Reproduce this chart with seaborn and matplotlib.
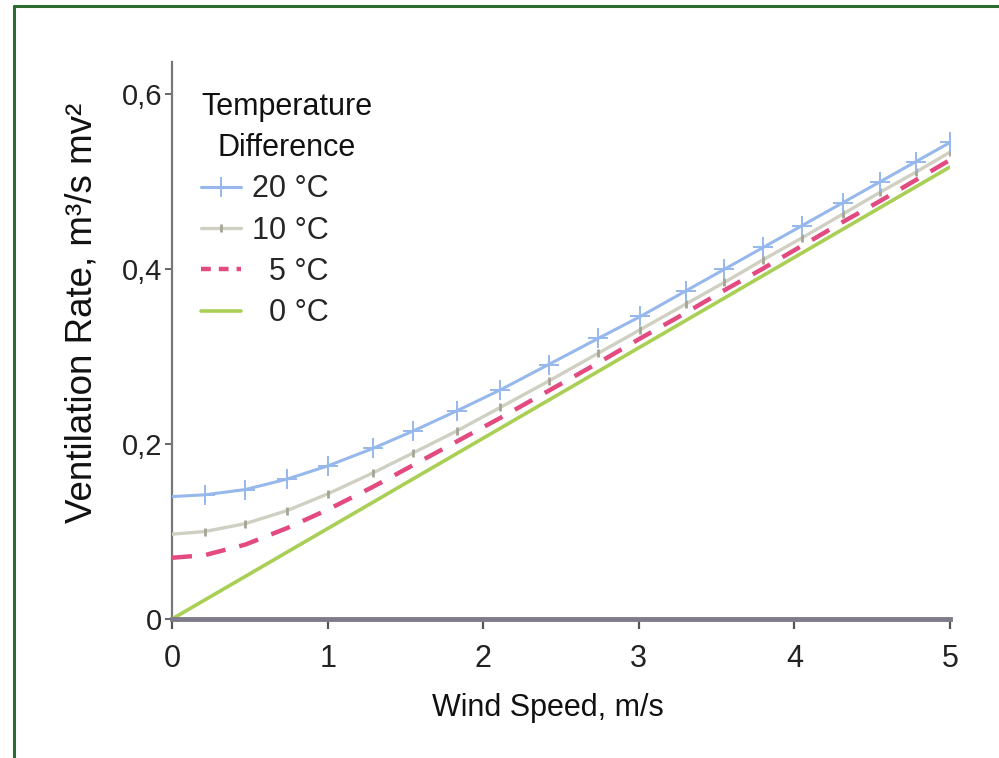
import matplotlib
matplotlib.use("Agg")
import matplotlib.pyplot as plt
import seaborn as sns
import pandas as pd
from matplotlib.lines import Line2D

# ---- data ----
wind = [0, 0.21, 0.47, 0.74, 1.0, 1.29, 1.55, 1.83, 2.11, 2.42, 2.74,
        3.01, 3.30, 3.55, 3.80, 4.05, 4.31, 4.55, 4.78, 5.0]
rate_20 = [0.140, 0.142, 0.148, 0.160, 0.175, 0.195, 0.215, 0.238, 0.262, 0.291,
           0.321, 0.346, 0.375, 0.400, 0.425, 0.450, 0.476, 0.500, 0.523, 0.545]
rate_10 = [0.097, 0.100, 0.109, 0.124, 0.143, 0.167, 0.190, 0.215, 0.242, 0.272,
           0.304, 0.331, 0.360, 0.385, 0.411, 0.436, 0.463, 0.488, 0.511, 0.534]
rate_5 = [0.070, 0.073, 0.085, 0.104, 0.125, 0.151, 0.176, 0.203, 0.230, 0.261,
          0.293, 0.321, 0.350, 0.376, 0.401, 0.427, 0.454, 0.478, 0.502, 0.525]
wind_0 = [0, 5.0]
rate_0 = [0.0, 0.517]

labels = ["20\u00a0°C", "10\u00a0°C", "\u20075\u00a0°C", "\u20070\u00a0°C"]
legend_title = "Temperature\nDifference"
xlabel = "Wind Speed, m/s"
ylabel = "Ventilation Rate, m³/s mv²"
xticks = [0, 1, 2, 3, 4, 5]
yticks = [0, 0.2, 0.4, 0.6]
yticklabels = ["0", "0,2", "0,4", "0,6"]

sns.set_style("white")
plt.rcParams['font.family'] = ['Liberation Sans', 'DejaVu Sans']

fig = plt.figure(figsize=(9.99, 7.58), dpi=100)
ax = fig.add_axes([0.1722, 0.1834, 0.7788, 0.7348])

d20 = pd.DataFrame({"x": wind, "y": rate_20})
d10 = pd.DataFrame({"x": wind, "y": rate_10})
d5 = pd.DataFrame({"x": wind, "y": rate_5})
d0 = pd.DataFrame({"x": wind_0, "y": rate_0})

c20, c10, c5, c0 = "#96b8ec", "#cfcfc2", "#e24a80", "#a9cf55"

sns.lineplot(data=d0, x="x", y="y", ax=ax, color=c0, lw=2.6,
             label=labels[3], zorder=3)
sns.lineplot(data=d5, x="x", y="y", ax=ax, color=c5, lw=3.2,
             label=labels[2], zorder=4, dashes=False)
l5 = [l for l in ax.lines if l.get_label() == labels[2]][0]
l5.set_dashes((4.5, 3.2))
sns.lineplot(data=d10, x="x", y="y", ax=ax, color=c10, lw=2.4,
             marker="|", markersize=6, markeredgewidth=2,
             markeredgecolor="#a5a596", markevery=slice(1, None),
             label=labels[1], zorder=5)
sns.lineplot(data=d20, x="x", y="y", ax=ax, color=c20, lw=2.2,
             marker="+", markersize=15, markeredgewidth=1.4,
             markeredgecolor=c20, markevery=slice(1, None),
             label=labels[0], zorder=6)

ax.set_xlim(0, 5)
ax.set_ylim(0, 0.637)
ax.set_xticks(xticks)
ax.set_xticklabels([str(t) for t in xticks])
ax.set_yticks(yticks)
ax.set_yticklabels(yticklabels)

for s in ["top", "right"]:
    ax.spines[s].set_visible(False)
ax.spines["left"].set_color("#777777")
ax.spines["left"].set_linewidth(1.6)
ax.spines["bottom"].set_color("#7f7b88")
ax.spines["bottom"].set_linewidth(3.5)
ax.spines["bottom"].set_zorder(7)

ax.tick_params(axis="x", direction="out", length=7, width=1.6, color="#555555",
               pad=11, labelsize=22, labelcolor="#222222", bottom=True)
ax.tick_params(axis="y", direction="out", length=5, width=1.4, color="#666666",
               pad=2, labelsize=21, labelcolor="#222222", left=True)

ax.set_xlabel(xlabel, fontsize=22, color="#111111")
ax.xaxis.set_label_coords(0.483, -0.133)
ax.set_ylabel(ylabel, fontsize=26.5, color="#111111")
ax.yaxis.set_label_coords(-0.093, 0.55)

handles, labs = ax.get_legend_handles_labels()
order = [labs.index(l) for l in labels]
leg = ax.legend([handles[i] for i in order], [labs[i] for i in order],
                title=legend_title, loc="upper left",
                bbox_to_anchor=(0.03, 0.958), frameon=False,
                fontsize=22, title_fontsize=22, alignment="left",
                handlelength=1.3, handletextpad=0.35, labelspacing=0.37,
                borderaxespad=0, borderpad=0.2)
leg.get_title().set_multialignment("center")
leg.get_title().set_linespacing(1.5)
leg.get_title().set_color("#111111")
for h in leg.legend_handles:
    if h.get_label() == labels[2]:
        h.set_dashes((2.2, 1.8))

# green frame (left and top edges)
W, H = 999, 758
fig.add_artist(Line2D([14 / W, 14 / W], [0, 1 - 6 / H], color="#2e6b2e", lw=2.2,
                      transform=fig.transFigure))
fig.add_artist(Line2D([14 / W, 1], [1 - 6 / H, 1 - 6 / H], color="#2e6b2e", lw=2.2,
                      transform=fig.transFigure))

fig.savefig("out.png", dpi=100)
